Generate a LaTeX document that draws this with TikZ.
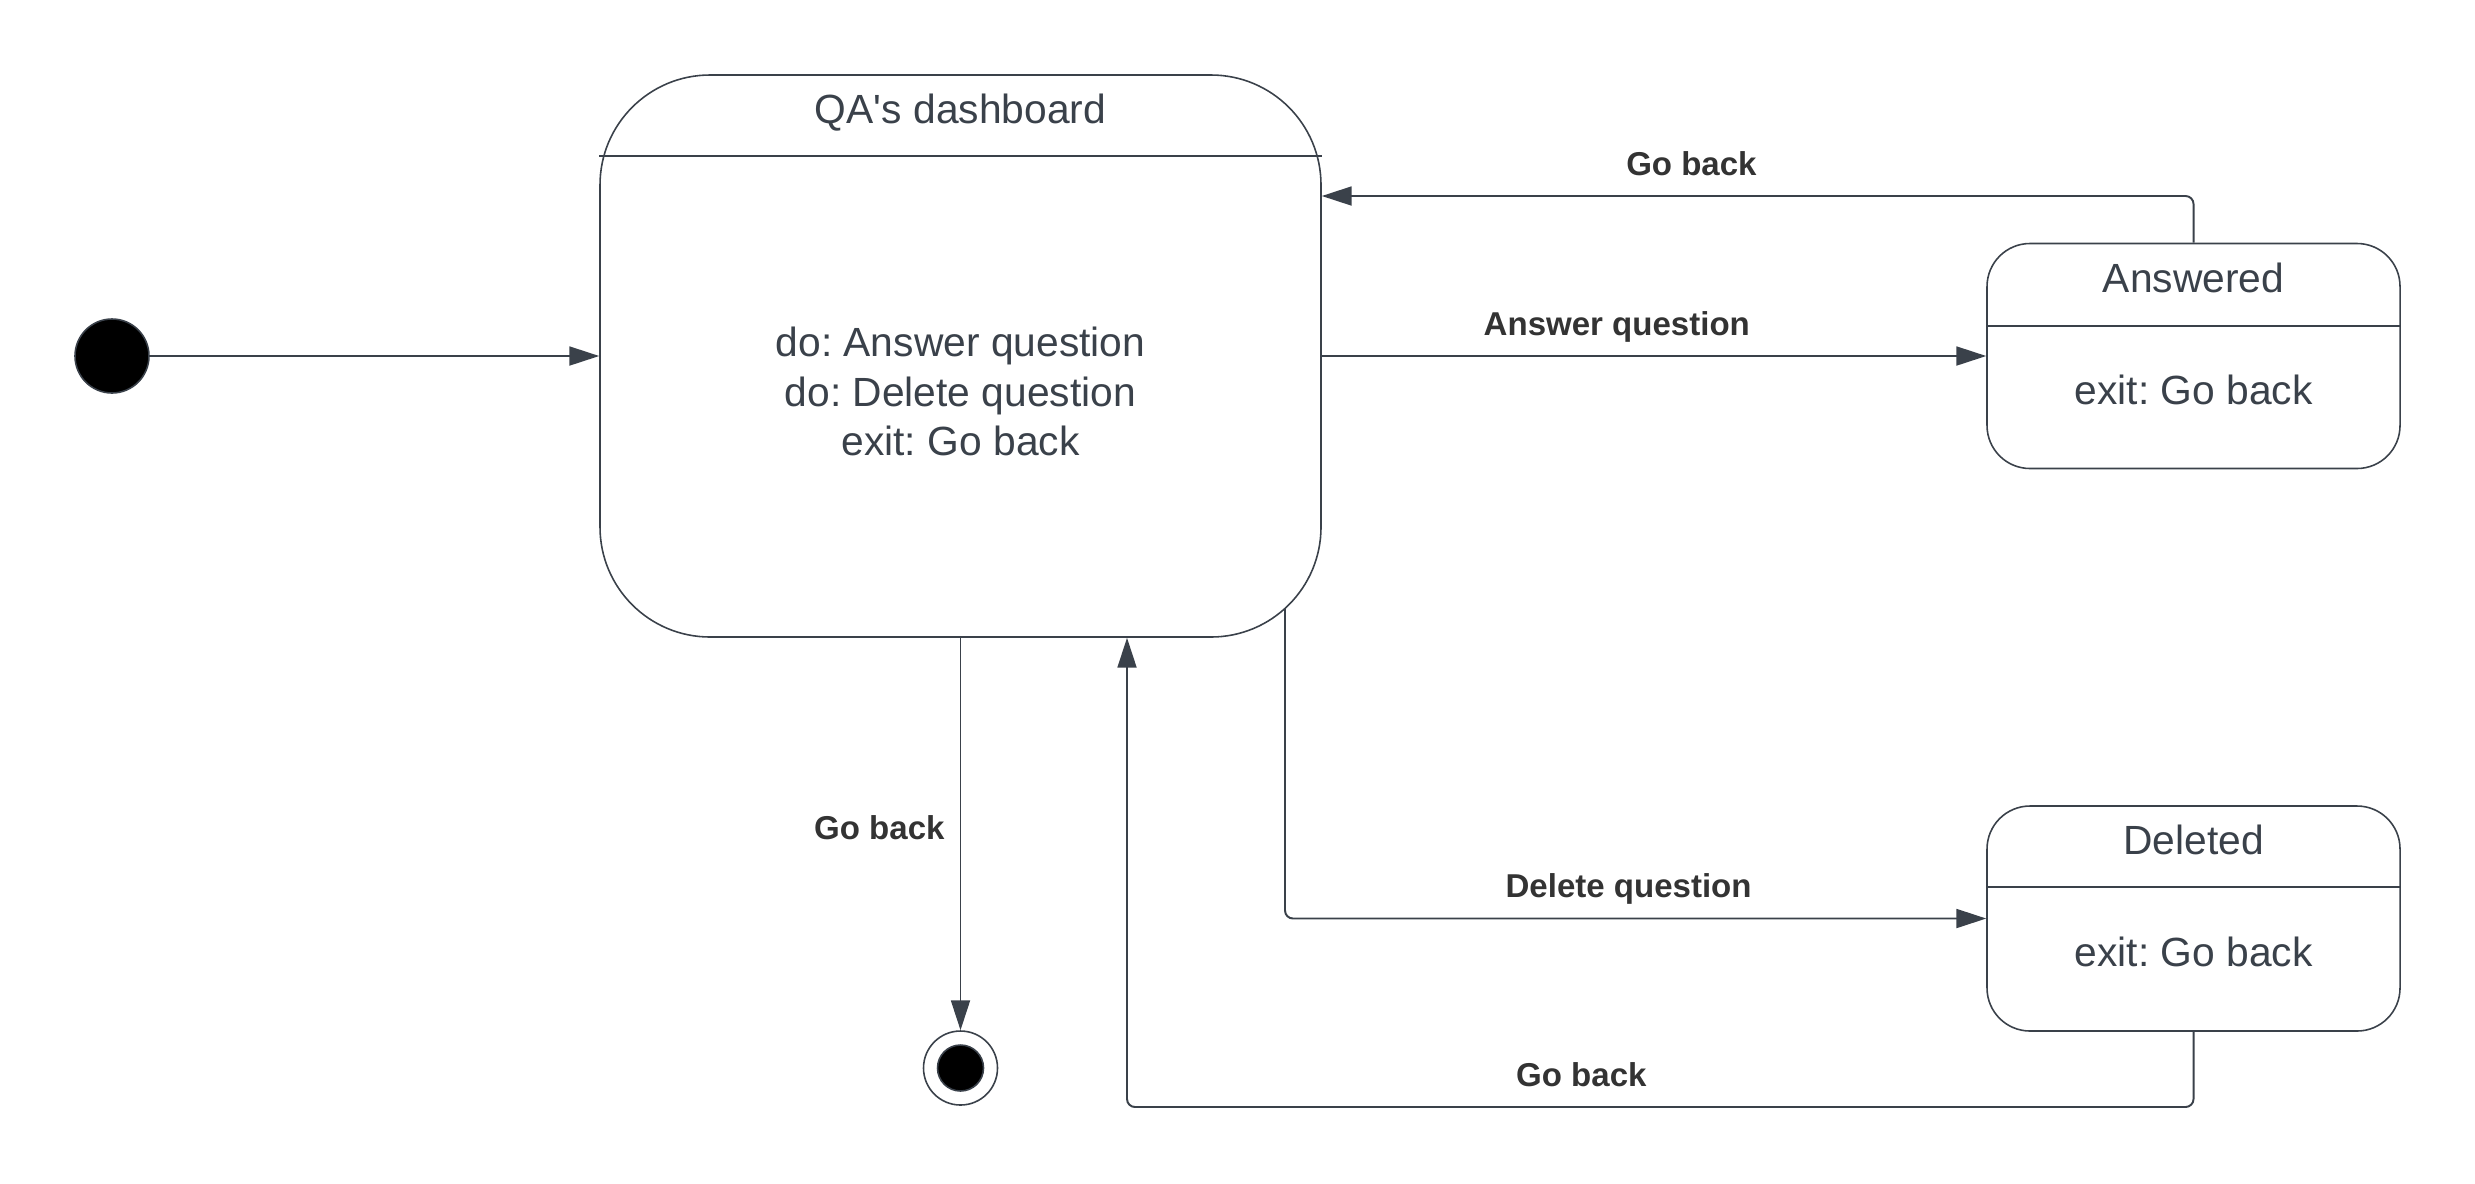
\documentclass[tikz,border=0pt]{standalone}
\usepackage{fontspec}
\setmainfont{Liberation Sans}
\usepackage{tikz}
\usetikzlibrary{calc}
\usetikzlibrary{arrows.meta}
\usetikzlibrary{positioning}
\definecolor{linegray}{HTML}{3A414A}
\definecolor{labelgray}{HTML}{333333}
\frenchspacing

\begin{document}
\begin{tikzpicture}[
StateBox/.style={draw=linegray,line width=0.45pt,rounded corners=0.43cm,minimum width=4.13cm,minimum height=2.25cm,inner sep=0pt},
StateText/.style={text=linegray,font=\fontsize{11.6}{14.2}\selectfont,align=center,inner sep=0pt},
HeadLine/.style={draw=linegray,line width=0.55pt},
Flow/.style={draw=linegray,line width=0.55pt,rounded corners=0.08cm,-{Triangle[length=8.5pt,width=5.4pt]}},
FlowLabel/.style={text=labelgray,font=\fontsize{9.4}{11}\selectfont\bfseries,inner sep=0pt},
StartDot/.style={circle,fill=black,draw=linegray,line width=0.45pt,minimum size=0.74cm,inner sep=0pt},
EndRing/.style={circle,fill=white,draw=linegray,line width=0.45pt,minimum size=0.74cm,inner sep=0pt}
]
\useasboundingbox (0,0) rectangle (24.75,-11.83);

% states
\node[StateBox, minimum width=7.21cm, minimum height=5.62cm, rounded corners=1.1cm] (dash) at (9.605,-3.56) {};
\node[StateBox] (ans) at (21.935,-3.56) {};
\node[StateBox] (del) at (21.935,-9.185) {};

\draw[HeadLine] ([yshift=-0.82cm]dash.north west) -- ([yshift=-0.82cm]dash.north east);
\draw[HeadLine] ([yshift=-0.83cm]ans.north west) -- ([yshift=-0.83cm]ans.north east);
\draw[HeadLine] ([yshift=-0.82cm]del.north west) -- ([yshift=-0.82cm]del.north east);

\node[StateText, anchor=base] (dashtitle) at ($(dash.north)+(0,-0.49)$) {QA\textquotesingle s dashboard};
\node[StateText] (dashbody) at ($(dash.center)+(0,-0.355)$) {do: Answer question\\do: Delete question\\exit: Go back};
\node[StateText, anchor=base] (anstitle) at ($(ans.north)+(0,-0.50)$) {Answered};
\node[StateText, anchor=base] (ansbody) at ($(ans.north)+(0,-1.62)$) {exit: Go back};
\node[StateText, anchor=base] (deltitle) at ($(del.north)+(0,-0.49)$) {Deleted};
\node[StateText, anchor=base] (delbody) at ($(del.north)+(0,-1.61)$) {exit: Go back};

% start and end
\node[StartDot] (start) at (1.12,-3.56) {};
\node[EndRing] (final) at (9.605,-10.68) {};
\node[StartDot, minimum size=0.46cm] (finaldot) at (final) {};

% transitions
\coordinate (delstart) at (12.85,-6.08);
\coordinate (backturn) at (11.27,-11.07);

\draw[Flow] (start) -- (dash.west);
\draw[Flow] (dash.east) -- node[FlowLabel, pos=0.444, anchor=base, yshift=0.21cm] (lblanswer) {Answer question} (ans.west);
\draw[Flow] (ans.north) |- node[FlowLabel, pos=0.788, anchor=base, yshift=0.21cm] (lblbacktop) {Go back} ([yshift=1.6cm]dash.east);
\draw[Flow] (delstart) |- node[FlowLabel, pos=0.745, anchor=base, yshift=0.21cm] (lbldelete) {Delete question} (del.west);
\draw[Flow] (del.south) |- node[FlowLabel, pos=0.787, anchor=base, yshift=0.21cm] (lblbackbot) {Go back} (backturn) -- (backturn |- dash.south);
\draw[Flow] (dash.south) -- node[FlowLabel, pos=0.515, anchor=base east, xshift=-0.15cm] (lblbackend) {Go back} (final.north);

\end{tikzpicture}
\end{document}
